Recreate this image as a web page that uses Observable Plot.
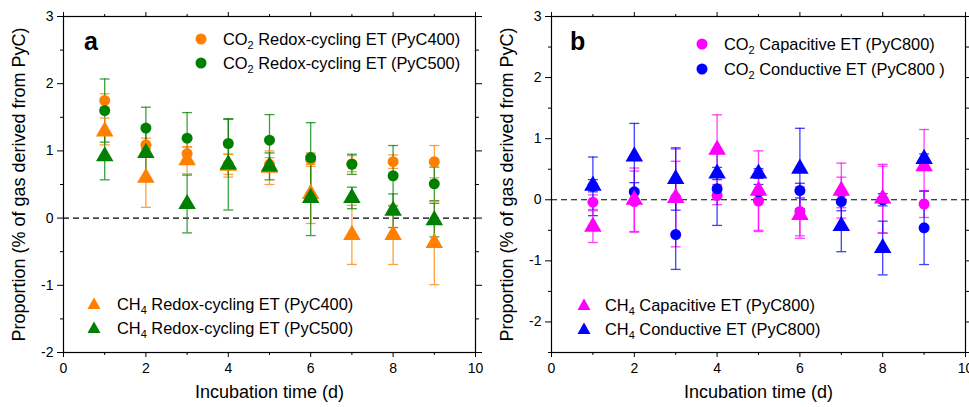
<!DOCTYPE html>
<html><head><meta charset="utf-8">
<script src="https://cdn.jsdelivr.net/npm/d3@7"></script>
<script src="https://cdn.jsdelivr.net/npm/@observablehq/plot@0.6"></script>
<style>
body{margin:0;background:#fff;font-family:"Liberation Sans",Arial,sans-serif;}
#wrap{position:relative;width:969px;height:407px;overflow:hidden;}
.panel{position:absolute;top:0;}
.leg{position:absolute;display:flex;align-items:center;height:20px;font-size:16.4px;white-space:nowrap;color:#000;}
.leg sub{font-size:11px;vertical-align:-4px;line-height:0;}
.letter{position:absolute;font-weight:bold;font-size:25px;}
#wrap g[aria-label="x-axis label"], #wrap g[aria-label="y-axis label"]{font-size:18px;}
</style>
</head><body>
<div id="wrap"></div>
<script>
const days = [1,2,3,4,5,6,7,8,9];
const xTicks = [0,2,4,6,8,10];
const xMinor = [1,3,5,7,9];
// Panel a
const co2_400 = [1.75,1.09,0.96,0.80,0.80,0.87,0.81,0.84,0.84];
const co2_400_err = [0.10,0.10,0.10,0.15,0.10,0.10,0.12,0.10,0.24];
const co2_500 = [1.60,1.34,1.19,1.11,1.16,0.90,0.80,0.63,0.51];
const co2_500_err = [0.47,0.31,0.38,0.36,0.38,0.52,0.15,0.45,0.25];
const ch4_400 = [1.29,0.60,0.86,0.78,0.75,0.36,-0.25,-0.25,-0.37];
const ch4_400_err = [0.20,0.44,0.20,0.17,0.25,0.44,0.44,0.44,0.62];
const ch4_500 = [0.92,0.97,0.21,0.80,0.77,0.30,0.30,0.11,-0.03];
const ch4_500_err = [0.35,0.40,0.43,0.68,0.20,0.56,0.16,0.25,0.25];
const yTicksA = [-2,-1,0,1,2,3];
const yMinorA = [-1.5,-0.5,0.5,1.5,2.5];
// Panel b
const co2_cap = [-0.04,-0.03,0.03,0.07,-0.02,-0.19,0.12,0.00,-0.07];
const co2_cap_err = [0.12,0.50,0.80,0.15,0.50,0.40,0.25,0.55,0.22];
const co2_cond = [0.22,0.13,-0.57,0.18,0.13,0.15,-0.03,0.00,-0.46];
const co2_cond_err = [0.48,0.15,0.57,0.60,0.12,0.12,0.15,0.10,0.60];
const ch4_cap = [-0.44,0.00,0.03,0.82,0.15,-0.25,0.15,0.02,0.55];
const ch4_cap_err = [0.26,0.52,0.60,0.57,0.65,0.38,0.45,0.56,0.60];
const ch4_cond = [0.23,0.71,0.34,0.43,0.43,0.51,-0.43,-0.79,0.67];
const ch4_cond_err = [0.10,0.54,0.51,0.10,0.08,0.66,0.42,0.44,0.08];
const yTicksB = [-2,-1,0,1,2,3];
const yMinorB = [-2.5,-1.5,-0.5,0.5,1.5,2.5];

const ORANGE="#ff8000", GREEN="#008000", MAGENTA="#ff00ff", BLUE="#0000ff";
const yLabel = "Proportion (% of gas derived from PyC)";
const xLabel = "Incubation time (d)";

function series(vals, errs, color, symbol){
  return {color, symbol, data: days.map((d,i)=>({x:d, y:vals[i], lo:vals[i]-errs[i], hi:vals[i]+errs[i]}))};
}
const capSymbol = {draw(ctx, size){ const w = Math.sqrt(size)/2; ctx.moveTo(-w,0); ctx.lineTo(w,0);} };
const fmt = d => String(d);

function panel(opts){
  const marks = [
    Plot.ruleY([0], {strokeDasharray:"6,4", stroke:"#000", strokeWidth:1.2}),
  ];
  for (const s of opts.series){
    marks.push(Plot.ruleX(s.data, {x:"x", y1:"lo", y2:"hi", stroke:s.color, strokeWidth:1.3, strokeOpacity:0.75}));
    marks.push(Plot.dot(s.data, {x:"x", y:"lo", symbol:capSymbol, r:5.6, stroke:s.color, strokeWidth:1.3, strokeOpacity:0.75}));
    marks.push(Plot.dot(s.data, {x:"x", y:"hi", symbol:capSymbol, r:5.6, stroke:s.color, strokeWidth:1.3, strokeOpacity:0.75}));
  }
  for (const s of opts.series){
    marks.push(Plot.dot(s.data, {x:"x", y:"y", symbol:s.symbol, r: s.symbol==="circle"?5.5:6.5, fill:s.color, stroke:"none"}));
  }
  marks.push(
    Plot.frame({stroke:"#000", strokeWidth:1.2}),
    Plot.axisX({ticks:xTicks, tickSize:5, tickPadding:6, fontSize:14, tickFormat:fmt, label:xLabel, labelAnchor:"center", labelOffset:45, labelArrow:"none"}),
    Plot.axisX({ticks:xMinor, tickSize:3, tickFormat:()=>"", label:null}),
    Plot.axisX({anchor:"top", ticks:xTicks, tickSize:5, tickFormat:()=>"", label:null}),
    Plot.axisX({anchor:"top", ticks:xMinor, tickSize:3, tickFormat:()=>"", label:null}),
    Plot.axisY({ticks:opts.yTicks, tickSize:6, tickPadding:4, fontSize:14, tickFormat:fmt, label:yLabel, labelAnchor:"center", labelOffset:51, labelArrow:"none"}),
    Plot.axisY({ticks:opts.yMinor, tickSize:3, tickFormat:()=>"", label:null}),
    Plot.axisY({anchor:"right", ticks:opts.yTicks, tickSize:6, tickFormat:()=>"", label:null}),
    Plot.axisY({anchor:"right", ticks:opts.yMinor, tickSize:3, tickFormat:()=>"", label:null})
  );
  return Plot.plot({
    width:opts.width, height:407,
    marginLeft:opts.marginLeft, marginRight:opts.marginRight, marginTop:16, marginBottom:55,
    x:{domain:[0,10]}, y:{domain:opts.yDomain},
    style:{fontFamily:"Liberation Sans, Arial, sans-serif", fontSize:"15px", background:"white", color:"#000", overflow:"visible"},
    marks
  });
}

const wrap = document.getElementById("wrap");
const A = panel({width:485, marginLeft:63, marginRight:10, yDomain:[-2,3], yTicks:yTicksA, yMinor:yMinorA,
  series:[series(co2_400,co2_400_err,ORANGE,"circle"), series(co2_500,co2_500_err,GREEN,"circle"),
          series(ch4_400,ch4_400_err,ORANGE,"triangle"), series(ch4_500,ch4_500_err,GREEN,"triangle")]});
const B = panel({width:484, marginLeft:66, marginRight:4, yDomain:[-2.5,3], yTicks:yTicksB, yMinor:yMinorB,
  series:[series(co2_cap,co2_cap_err,MAGENTA,"circle"), series(co2_cond,co2_cond_err,BLUE,"circle"),
          series(ch4_cap,ch4_cap_err,MAGENTA,"triangle"), series(ch4_cond,ch4_cond_err,BLUE,"triangle")]});
const da = document.createElement("div"); da.className="panel"; da.style.left="0px"; da.appendChild(A); wrap.appendChild(da);
const db = document.createElement("div"); db.className="panel"; db.style.left="485px"; db.appendChild(B); wrap.appendChild(db);

// legends
const legendNames = [
  ["CO","2"," Redox-cycling ET (PyC400)"], ["CO","2"," Redox-cycling ET (PyC500)"],
  ["CH","4"," Redox-cycling ET (PyC400)"], ["CH","4"," Redox-cycling ET (PyC500)"],
  ["CO","2"," Capacitive ET (PyC800)"], ["CO","2"," Conductive ET (PyC800 )"],
  ["CH","4"," Capacitive ET (PyC800)"], ["CH","4"," Conductive ET (PyC800)"]
];
const legendStyle = [
  {c:ORANGE,s:"circle",mx:201,my:39,tx:223},{c:GREEN,s:"circle",mx:201,my:63,tx:223},
  {c:ORANGE,s:"triangle",mx:94,my:304,tx:117},{c:GREEN,s:"triangle",mx:94,my:328,tx:117},
  {c:MAGENTA,s:"circle",mx:702,my:44,tx:724},{c:BLUE,s:"circle",mx:702,my:69,tx:724},
  {c:MAGENTA,s:"triangle",mx:584,my:305,tx:605},{c:BLUE,s:"triangle",mx:584,my:329,tx:605}
];
legendNames.forEach((n,i)=>{
  const st = legendStyle[i];
  const el = document.createElement("div"); el.className="leg";
  el.style.left=(st.mx-7)+"px"; el.style.top=(st.my-10)+"px";
  const shape = st.s==="circle" ? `<circle cx="7" cy="7" r="5.5" fill="${st.c}"/>` : `<path d="M7,0.5L13.5,12L0.5,12Z" fill="${st.c}"/>`;
  el.innerHTML = `<svg width="14" height="14">${shape}</svg><span style="margin-left:${st.tx-st.mx-7}px">${n[0]}<sub>${n[1]}</sub>${n[2]}</span>`;
  wrap.appendChild(el);
});
const la = document.createElement("div"); la.className="letter"; la.textContent="a"; la.style.left="84px"; la.style.top="27px"; wrap.appendChild(la);
const lb = document.createElement("div"); lb.className="letter"; lb.textContent="b"; lb.style.left="570px"; lb.style.top="27px"; wrap.appendChild(lb);
</script>
</body></html>
